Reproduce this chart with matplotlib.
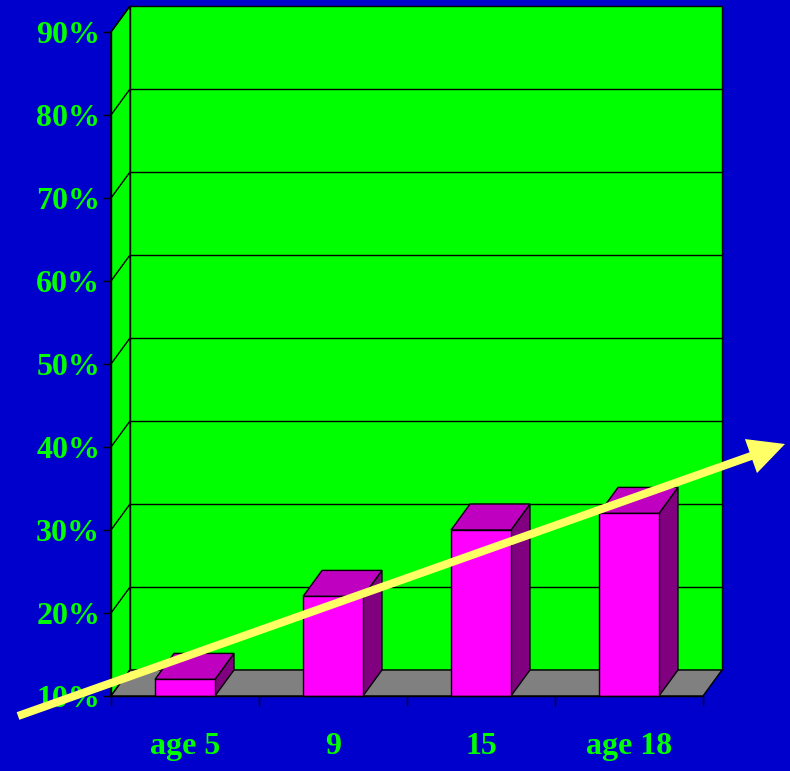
import matplotlib
matplotlib.use('Agg')
import matplotlib.pyplot as plt
from matplotlib.patches import Polygon, Rectangle, FancyArrowPatch

# ---- data ----
categories = ['age 5', '9', '15', 'age 18']
values = [12, 22, 30, 32]
y_ticks = [10, 20, 30, 40, 50, 60, 70, 80, 90]
y_labels = [f'{v}%' for v in y_ticks]

# ---- style ----
BG = '#0000CC'
GREEN = '#00FF00'
MAG = '#FF00FF'
MAG_TOP = '#C000C0'
MAG_SIDE = '#800080'
GRAY = '#808080'
YELLOW = '#FFFF66'
DX, DY = 19, 26          # 3-D depth offset in pixels
BAR_W = 0.405

plt.rcParams['font.family'] = ['Liberation Serif', 'DejaVu Serif']
plt.rcParams['font.weight'] = 'bold'

fig = plt.figure(figsize=(7.9, 7.71), dpi=100, facecolor=BG)
ax = fig.add_axes([111 / 790, 75 / 771, 592 / 790, 664 / 771])
ax.set_xlim(0, len(categories))
ax.set_ylim(y_ticks[0], y_ticks[-1])
ax.patch.set_visible(False)


def back(x, y):
    d = ax.transData.transform((x, y))
    b = ax.transData.inverted().transform((d[0] + DX, d[1] + DY))
    return (b[0], b[1])


x0, x1 = 0, len(categories)
ymin, ymax = y_ticks[0], y_ticks[-1]

# back wall
ax.add_patch(Polygon([back(x0, ymin), back(x1, ymin), back(x1, ymax), back(x0, ymax)],
                     closed=True, fc=GREEN, ec='black', lw=1, clip_on=False, zorder=1))
for v in y_ticks[1:-1]:
    a, b = back(x0, v), back(x1, v)
    ax.plot([a[0], b[0]], [a[1], b[1]], color='black', lw=1, clip_on=False, zorder=1.1)

# left wall
ax.add_patch(Polygon([(x0, ymin), (x0, ymax), back(x0, ymax), back(x0, ymin)],
                     closed=True, fc=GREEN, ec='black', lw=1, clip_on=False, zorder=1.2))
for v in y_ticks:
    a = back(x0, v)
    ax.plot([x0, a[0]], [v, a[1]], color='black', lw=1, clip_on=False, zorder=1.3)

# floor
ax.add_patch(Polygon([(x0, ymin), (x1, ymin), back(x1, ymin), back(x0, ymin)],
                     closed=True, fc=GRAY, ec='black', lw=1, clip_on=False, zorder=1.4))

# bars
for i, v in enumerate(values):
    xl = i + 0.5 - BAR_W / 2
    xr = i + 0.5 + BAR_W / 2
    ax.add_patch(Polygon([(xr, ymin), (xr, v), back(xr, v), back(xr, ymin)],
                         closed=True, fc=MAG_SIDE, ec='black', lw=1, clip_on=False, zorder=2))
    ax.add_patch(Polygon([(xl, v), (xr, v), back(xr, v), back(xl, v)],
                         closed=True, fc=MAG_TOP, ec='black', lw=1, clip_on=False, zorder=2))
    ax.add_patch(Rectangle((xl, ymin), BAR_W, v - ymin, fc=MAG, ec='black', lw=1,
                           clip_on=False, zorder=2.1))

# spines / ticks
for s in ['top', 'right']:
    ax.spines[s].set_visible(False)
for s in ['left', 'bottom']:
    ax.spines[s].set_color('black')
    ax.spines[s].set_linewidth(1)
    ax.spines[s].set_zorder(2.2)

ax.set_yticks(y_ticks, y_labels)
ax.tick_params(axis='y', direction='out', length=5.8, width=1, color='black', pad=2,
               labelcolor=GREEN, labelsize=23)
ax.set_xticks(range(len(categories) + 1))
ax.set_xticklabels([])
ax.set_xticks([i + 0.5 for i in range(len(categories))], categories, minor=True)
ax.tick_params(axis='x', which='major', direction='out', length=7.2, width=1, color='black')
ax.tick_params(axis='x', which='minor', length=0, pad=26, labelcolor=GREEN, labelsize=23)

# trend arrow
arrow = FancyArrowPatch(posA=(18 / 790, 55 / 771), posB=(785 / 790, 327 / 771),
                        transform=fig.transFigure,
                        arrowstyle='simple,head_length=2.6,head_width=2.6,tail_width=0.58',
                        mutation_scale=10, fc=YELLOW, ec='none', shrinkA=0, shrinkB=0,
                        zorder=10)
fig.add_artist(arrow)

fig.savefig('out.png', dpi=100, facecolor=BG)
